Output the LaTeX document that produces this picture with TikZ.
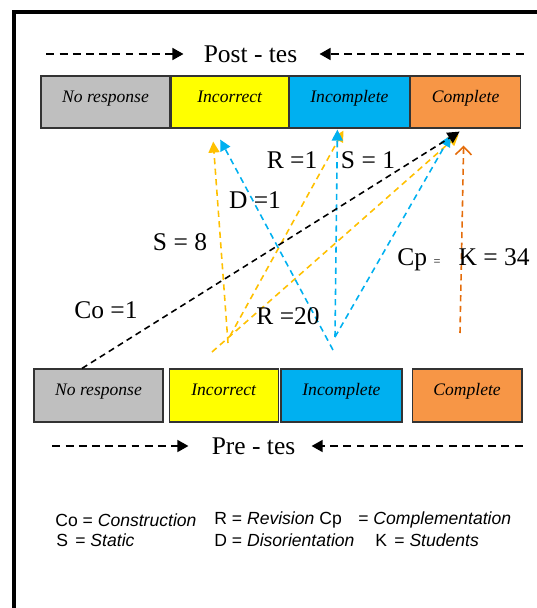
\documentclass[tikz,border=0pt]{standalone}
\usepackage{fontspec}
\setmainfont{Liberation Serif}
\setsansfont{Liberation Sans}
\definecolor{boxgray}{RGB}{191, 191, 191}
\definecolor{boxyellow}{RGB}{255, 255, 0}
\definecolor{boxblue}{RGB}{0, 176, 240}
\definecolor{boxorange}{RGB}{247, 150, 70}
\definecolor{lineorange}{RGB}{255, 192, 0}
\definecolor{lineblue}{RGB}{0, 176, 240}
\definecolor{linedark}{RGB}{228, 108, 10}
\usetikzlibrary{arrows.meta, positioning}
\tikzset{
	catbox/.style={rectangle, draw=black!80, line width=0.7pt, minimum height=1.04cm, inner sep=2pt, text height=7pt, text depth=6.5pt, font=\fontsize{10}{12}\selectfont\itshape},
	headlbl/.style={inner sep=0pt, font=\fontsize{14.5}{17}\selectfont},
	shiftlbl/.style={inner sep=0pt, font=\fontsize{14.5}{17}\selectfont},
	keytxt/.style={inner sep=0pt, anchor=west, font=\sffamily\fontsize{10}{12}\selectfont},
	headarrow/.style={-{Triangle[length=2.2mm, width=2.4mm]}, dash pattern=on 4.5pt off 3pt, line width=0.9pt},
	move/.style={-{Triangle[length=2.2mm, width=2.2mm]}, dash pattern=on 3.5pt off 2.5pt, line width=0.9pt},
}
\begin{document}
\begin{tikzpicture}[x=0.02cm, y=-0.02cm]
	\useasboundingbox (0,0) rectangle (537,608);
	\draw[line width=2.3pt] (14,640) -- (14,12) -- (560,12);
	% post-test row
	\node[headlbl] (posttxt) at (250.5,54) {Post - tes};
	\node[catbox, fill=boxgray, minimum width=2.58cm] (postnr) at (105.5,102) {No response};
	\node[catbox, fill=boxyellow, minimum width=2.34cm, right=0pt of postnr] (postinc) {Incorrect};
	\node[catbox, fill=boxblue, minimum width=2.4cm, right=0pt of postinc] (postincp) {Incomplete};
	\node[catbox, fill=boxorange, minimum width=2.2cm, right=0pt of postincp] (postcp) {Complete};
	\draw[headarrow] ([xshift=-3.14cm]posttxt.west) -- ([xshift=-0.4cm]posttxt.west);
	\draw[headarrow] ([xshift=4.52cm]posttxt.east) -- ([xshift=0.44cm]posttxt.east);
	% pre-test row
	\node[catbox, fill=boxgray, minimum width=2.58cm, minimum height=1.06cm] (prenr) at (98.5,395.5) {No response};
	\node[catbox, fill=boxyellow, minimum width=2.18cm, minimum height=1.06cm, right=0.1cm of prenr] (preinc) {Incorrect};
	\node[catbox, fill=boxblue, minimum width=2.42cm, minimum height=1.06cm, right=0.03cm of preinc] (preincp) {Incomplete};
	\node[catbox, fill=boxorange, minimum width=2.2cm, minimum height=1.06cm, right=0.18cm of preincp] (precp) {Complete};
	\node[headlbl] (pretxt) at (253.5,446) {Pre - tes};
	\draw[headarrow] ([xshift=-3.18cm]pretxt.west) -- ([xshift=-0.46cm]pretxt.west);
	\draw[headarrow] ([xshift=4.54cm]pretxt.east) -- ([xshift=0.32cm]pretxt.east);
	% start points of the shifts
	\coordinate (incA) at (228,343);
	\coordinate (incB) at (230,336);
	\coordinate (incC) at (212,352);
	\coordinate (icpA) at (333,350);
	\coordinate (icpB) at (335,337);
	\coordinate (cpA) at (460,333);
	\draw[move, draw=lineorange, -{Triangle[length=2.2mm, width=2.2mm, fill=lineorange]}] (incA) -- ([xshift=-0.33cm, yshift=-0.26cm]postinc.south);
	\draw[move, draw=lineorange, -{Triangle[length=2.2mm, width=2.2mm, fill=lineorange]}] (incB) -- ([xshift=-0.12cm, yshift=-0.04cm]postincp.south);
	\draw[move, draw=lineorange, -{Triangle[length=2.2mm, width=2.2mm, fill=lineorange]}] (incC) -- ([xshift=-0.14cm, yshift=-0.12cm]postcp.south);
	\draw[move, draw=lineblue, -{Triangle[length=2.2mm, width=2.2mm, fill=lineblue]}] (icpA) -- ([xshift=-0.19cm, yshift=-0.22cm]postinc.south);
	\draw[move, draw=lineblue, -{Triangle[length=2.2mm, width=2.2mm, fill=lineblue]}] (icpB) -- ([xshift=-0.24cm, yshift=-0.02cm]postincp.south);
	\draw[move, draw=lineblue, -{Triangle[length=2.2mm, width=2.2mm, fill=lineblue]}] (icpB) -- ([xshift=-0.3cm, yshift=-0.14cm]postcp.south);
	\draw[move, draw=linedark, -{Straight Barb[length=1.6mm, width=3.2mm]}] (cpA) -- ([xshift=-0.04cm, yshift=-0.34cm]postcp.south);
	\draw[move, draw=black, -{Triangle[length=2.4mm, width=2.4mm]}] ([xshift=-0.33cm]prenr.north) -- ([xshift=-0.12cm, yshift=-0.06cm]postcp.south);
	% shift labels
	\node[shiftlbl] (lr1) at (292,160) {R =1};
	\node[shiftlbl] (ls1) at (368,160) {S = 1};
	\node[shiftlbl] (ld1) at (255,200) {D =1};
	\node[shiftlbl] (ls8) at (180,242) {S = 8};
	\node[shiftlbl] (lcp) at (419,260) {Cp {\fontsize{7}{8}\selectfont =}};
	\node[shiftlbl] (lk) at (494,257) {K = 34};
	\node[shiftlbl] (lco) at (106,310) {Co =1};
	\node[shiftlbl] (lr20) at (288,316) {R =20};
	% key
	\node[keytxt] (kco) at (55,520) {Co = \textit{Construction}};
	\node[keytxt] (kr) at (214,520) {R = \textit{Revision} Cp};
	\node[keytxt] (kcp) at (358,520) {= \textit{Complementation}};
	\node[keytxt] (ks) at (56,540) {S};
	\node[keytxt] (kst) at (75,540) {= \textit{Static}};
	\node[keytxt] (kd) at (214,540) {D = \textit{Disorientation}};
	\node[keytxt] (kk) at (375,540) {K};
	\node[keytxt] (kst2) at (394,540) {= \textit{Students}};
\end{tikzpicture}
\end{document}
